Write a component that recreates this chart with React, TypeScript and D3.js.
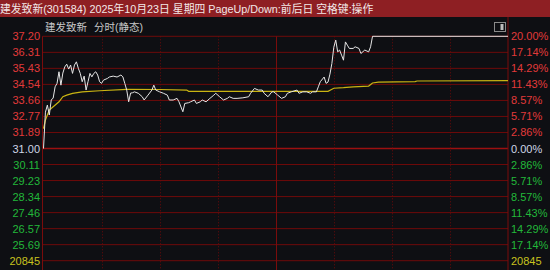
import React from "react";
import * as d3 from "d3";

// ---- data ----
const titleText = "建发致新(301584) 2025年10月23日 星期四 PageUp/Down:前后日 空格键:操作";
const stockName = "建发致新";
const modeText = "分时(静态)";

const priceLabelsUp = ["37.20", "36.31", "35.43", "34.54", "33.66", "32.77", "31.89"];
const priceLabelBase = "31.00";
const priceLabelsDown = ["30.11", "29.23", "28.34", "27.46", "26.57", "25.69"];
const pctLabelsUp = ["20.00%", "17.14%", "14.29%", "11.43%", "8.57%", "5.71%", "2.86%"];
const pctLabelBase = "0.00%";
const pctLabelsDown = ["2.86%", "5.71%", "8.57%", "11.43%", "14.29%", "17.14%"];
const volumeLabel = "20845";

const priceMinutes = [
  0, 1, 2, 3, 4, 5, 6, 7, 8, 9, 10, 11, 12, 13, 14, 15, 16, 17, 18, 19, 20, 21, 22, 23, 24, 25, 26, 27, 28, 29,
  30, 31, 33, 34, 36, 38, 40, 41, 42, 43, 44, 45, 46, 47, 49, 51, 52, 54, 56, 57, 58, 60, 62, 64, 65, 67, 69, 70,
  72, 73, 75, 76, 78, 79, 81, 82, 84, 86, 88, 89, 91, 93, 95, 96, 98, 100, 103, 106, 107, 109, 111, 113, 114,
  116, 118, 119, 121, 123, 125, 126, 128, 131, 132, 134, 136, 138, 139, 141, 142, 143, 145, 146, 147, 148, 149,
  150, 151, 152, 153, 154, 155, 156, 157, 158, 160, 161, 163, 164, 166, 168, 169, 170, 240,
];
const prices = [
  31.0, 33.01, 33.4, 32.85, 33.68, 33.79, 34.41, 34.6, 35.24, 34.5, 35.17, 35.51, 35.66, 35.39, 35.61, 35.15,
  35.61, 35.79, 35.43, 35.15, 34.69, 35.0, 34.23, 34.69, 35.15, 34.96, 35.15, 35.24, 35.06, 34.69,
  34.6, 34.78, 34.87, 34.95, 35.0, 34.95, 35.06, 34.96, 34.6, 34.23, 33.58, 34.06, 34.08, 34.13, 34.05, 33.86,
  33.68, 33.95, 34.23, 34.5, 34.23, 34.13, 34.05, 33.95, 33.68, 33.68, 33.77, 33.58,
  33.03, 33.49, 33.53, 33.58, 33.68, 33.49, 33.58, 33.68, 33.58, 33.77, 33.95, 34.05, 33.86, 33.68, 33.77,
  33.86, 33.77, 33.77, 33.8, 33.86, 34.05, 34.32, 34.23, 34.23, 34.05,
  33.86, 34.13, 34.13, 33.95, 33.77, 33.86, 34.05, 34.13, 34.23, 34.05, 34.13, 34.13, 34.05, 34.13, 34.13,
  34.41, 34.69, 34.95, 34.6, 34.67, 35.11, 35.7,
  36.6, 36.99, 36.34, 36.44, 36.16, 35.88, 36.89, 36.71, 36.53, 36.53, 36.62, 36.53, 36.25, 36.44, 36.34,
  36.62, 37.2, 37.2,
];

const avgMinutes = [0, 1, 2, 3, 5, 8, 10, 12, 15, 20, 29, 43, 60, 74, 75, 147, 150, 155, 160, 168, 170, 173, 192, 193, 240];
const avgPrices = [
  32.1, 32.57, 32.85, 33.12, 33.31, 33.58, 33.86, 33.95, 34.05, 34.13, 34.19, 34.27, 34.26, 34.23, 34.16,
  34.16, 34.33, 34.36, 34.41, 34.45, 34.62, 34.67, 34.7, 34.73, 34.75,
];

const gridMinutes = [30, 60, 90, 120, 150, 180, 210];

// ---- layout ----
const W = 550;
const H = 270;
const left = 43.5;
const right = 508;
const topY = 36.3;
const baseY = 148.5;

const FONT = "'Liberation Sans', Arial, 'Noto Sans CJK SC', sans-serif";
const RED = "#e23a3a";
const GREEN = "#22b83a";
const YELLOW = "#c8c21e";
const BASECOL = "#cfd6e6";
const GRID = "#6e0a0a";

export default function App() {
  const x = d3.scaleLinear().domain([0, 240]).range([left, right]);
  const y = d3.scaleLinear().domain([37.2, 31.0]).range([topY, baseY]);
  const step = (baseY - topY) / 7;
  const rowY = (i: number) => topY + i * step;

  const priceLine = d3
    .line<number>()
    .x((_, i) => x(priceMinutes[i]))
    .y((d) => y(d));
  const avgLine = d3
    .line<number>()
    .x((_, i) => x(avgMinutes[i]))
    .y((d) => y(d));

  const rows: { l: string; r: string; c: string }[] = [
    ...priceLabelsUp.map((l, i) => ({ l, r: pctLabelsUp[i], c: RED })),
    { l: priceLabelBase, r: pctLabelBase, c: BASECOL },
    ...priceLabelsDown.map((l, i) => ({ l, r: pctLabelsDown[i], c: GREEN })),
    { l: volumeLabel, r: volumeLabel, c: YELLOW },
  ];

  return (
    <svg
      width={W}
      height={H}
      style={{ position: "absolute", left: 0, top: 0, display: "block" }}
      fontFamily={FONT}
    >
      <rect x={0} y={0} width={W} height={H} fill="#0e0f13" />
      <rect x={0} y={0} width={W} height={17} fill="#8e1f23" />
      <text x={0} y={12.5} fontSize={10.8} fill="#f2e8e8">
        {titleText}
      </text>
      <text x={45} y={31} fontSize={10.5} fill="#c8c8c8">
        {stockName}
      </text>
      <text x={94} y={31} fontSize={10.5} fill="#c8c8c8">
        {modeText}
      </text>

      {/* horizontal grid */}
      {rows.map((r, i) => (
        <line
          key={"h" + i}
          x1={left - 1}
          x2={right}
          y1={rowY(i)}
          y2={rowY(i)}
          stroke={i === 7 ? "#9c1010" : GRID}
          strokeWidth={i === 7 ? 1.6 : 1}
        />
      ))}
      {/* vertical grid */}
      {gridMinutes.map((m) => (
        <line
          key={"v" + m}
          x1={Math.round(x(m)) + 0.5}
          x2={Math.round(x(m)) + 0.5}
          y1={topY}
          y2={H}
          stroke={m === 120 ? "#7a0c0c" : "#6a0a0a"}
          strokeDasharray={m === 120 ? undefined : "1,2"}
        />
      ))}
      <line x1={42.5} x2={42.5} y1={topY} y2={H} stroke="#7a0c0c" />
      <line x1={508} x2={508} y1={17} y2={H} stroke="#7a0c0c" />

      {/* labels */}
      {rows.map((r, i) => (
        <g key={"t" + i}>
          <text x={40} y={rowY(i) + 4} fontSize={11} textAnchor="end" fill={r.c}>
            {r.l}
          </text>
          <text x={511} y={rowY(i) + 4} fontSize={11} fill={r.c}>
            {r.r}
          </text>
        </g>
      ))}

      {/* icon */}
      <rect x={494.5} y={22.5} width={11} height={9} fill="none" stroke="#8a8a8a" />
      <rect x={500.5} y={24} width={3} height={6} fill="#bdbdbd" />

      {/* lines */}
      <path d={avgLine(avgPrices) || ""} fill="none" stroke="#c9b412" strokeWidth={1.2} />
      <path d={priceLine(prices) || ""} fill="none" stroke="#e6e6e6" strokeWidth={1} />
    </svg>
  );
}
